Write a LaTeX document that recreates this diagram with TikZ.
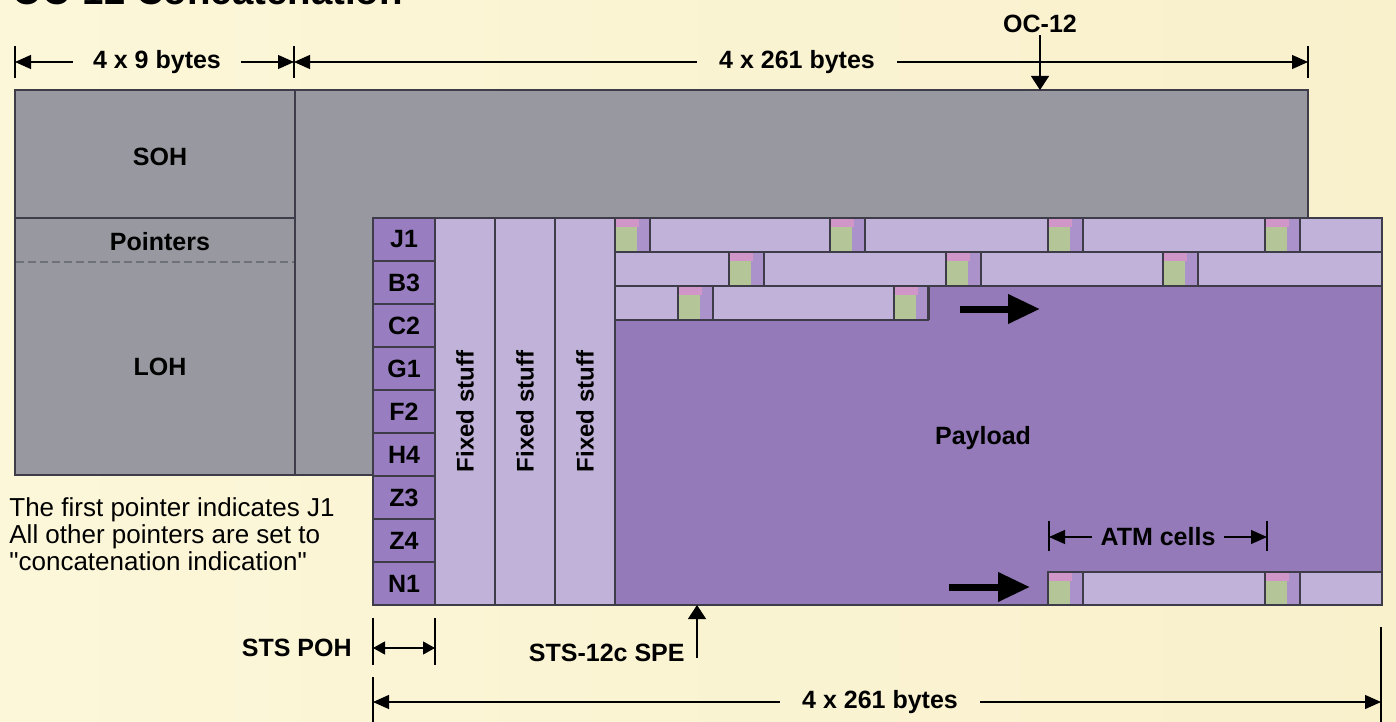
\documentclass[tikz,border=0pt]{standalone}
\usepackage{fontspec}
\setmainfont{Liberation Sans}
\usetikzlibrary{arrows.meta,positioning}
\definecolor{bgleft}   {RGB}{252,247,217}
\definecolor{bgright}  {RGB}{249,240,204}
\definecolor{ohgray}   {RGB}{152,152,160}
\definecolor{spepurple}{RGB}{148,122,184}
\definecolor{pohpurple}{RGB}{152,126,192}
\definecolor{fixlav}   {RGB}{192,178,216}
\definecolor{hdrpurple}{RGB}{172,146,202}
\definecolor{cellpink} {RGB}{208,150,200}
\definecolor{cellgreen}{RGB}{180,198,152}
\definecolor{cellline} {RGB}{62,60,72}
\definecolor{dashgray} {RGB}{108,114,118}
\tikzset{
  lbl/.style={font=\bfseries\fontsize{12.5}{15}\selectfont,inner ysep=1pt,
              inner xsep=10pt},
  note/.style={font=\fontsize{13}{13.5}\selectfont,align=left,inner sep=0pt},
  titletxt/.style={font=\bfseries\fontsize{19.2}{22}\selectfont,inner sep=0pt},
  pohbox/.style={draw=cellline,fill=pohpurple,line width=0.7pt,
                 minimum width=31pt,minimum height=21.5pt,
                 inner sep=0pt,outer sep=0pt,
                 font=\bfseries\fontsize{12.5}{15}\selectfont},
  fixbox/.style={draw=cellline,fill=fixlav,line width=0.7pt,
                 minimum width=30pt,minimum height=193.5pt,
                 inner sep=0pt,outer sep=0pt,
                 font=\bfseries\fontsize{12}{14}\selectfont},
  frame/.style={draw=cellline,line width=0.7pt},
  ptrdash/.style={draw=dashgray,line width=1pt,dash pattern=on 4pt off 2pt},
  dimarr/.style={-{Triangle[length=8pt,width=7pt]},line width=0.6pt},
  dimboth/.style={{Triangle[length=6pt,width=6.5pt]}-{Triangle[length=6pt,width=6.5pt]},
                  line width=0.6pt},
  ptr/.style={-{Triangle[length=7pt,width=9pt]},line width=0.6pt},
  bigarr/.style={-{Triangle[length=16pt,width=14pt]},line width=3.5pt},
  tick/.style={line width=0.6pt},
  atmhdr/.pic={
    \fill[hdrpurple] (0,1) rectangle (35,33);
    \fill[cellpink]  (1,1) rectangle (24,9);
    \fill[cellgreen] (1,9) rectangle (22,33);
    \draw[cellline,line width=0.7pt] (0,0) -- (0,34) (35,0) -- (35,34);
  },
}

\begin{document}
\begin{tikzpicture}[x=0.5pt,y=-0.5pt]
  % paper
  \shade[left color=bgleft,right color=bgright] (0,0) rectangle (1396,722);
  \useasboundingbox (0,0) rectangle (1396,722);
  \node[titletxt,anchor=base west] (title) at (12,5) {OC-12 Concatenation};

  % OC-12 frame: SOH / pointers / LOH
  \draw[frame,fill=ohgray] (15,90) rectangle (1308,475);
  \draw[frame] (15,218) -- (295,218);
  \draw[frame,line width=1pt] (295,90) -- (295,475);
  \draw[ptrdash] (16,262) -- (294,262);
  \node[lbl] (SOH) at (160,157) {SOH};
  \node[lbl] (PTR) at (160,242) {Pointers};
  \node[lbl] (LOH) at (160,367) {LOH};

  % STS-12c SPE
  \draw[frame,fill=spepurple] (373,218) rectangle (1382,605);
  \node[pohbox,anchor=north west] (J1) at (373,218) {J1};
  \foreach \cur/\prev in {B3/J1,C2/B3,G1/C2,F2/G1,H4/F2,Z3/H4,Z4/Z3,N1/Z4}
    \node[pohbox,below=0pt of \prev] (\cur) {\cur};
  \node[fixbox,anchor=north west] (FS1) at (435,218) {\rotatebox{90}{Fixed stuff}};
  \node[fixbox,right=0pt of FS1] (FS2) {\rotatebox{90}{Fixed stuff}};
  \node[fixbox,right=0pt of FS2] (FS3) {\rotatebox{90}{Fixed stuff}};
  \node[lbl] (PAY) at (983,438) {Payload};

  % ATM cell rows
  \fill[fixlav] (615,218) rectangle (1382,252);
  \fill[fixlav] (615,252) rectangle (1382,286);
  \fill[fixlav] (615,286) rectangle (928,320);
  \fill[fixlav] (1048,572) rectangle (1382,605);
  \foreach \x in {615,830,1048,1265} \pic at (\x,218) {atmhdr};
  \foreach \x in {729,946,1163}      \pic at (\x,252) {atmhdr};
  \foreach \x in {678,894}           \pic at (\x,286) {atmhdr};
  \foreach \x in {1048,1265}         \pic at (\x,572) {atmhdr};
  \draw[frame] (615,218) rectangle (1382,252);
  \draw[frame] (615,252) rectangle (1382,286);
  \draw[frame] (615,286) rectangle (928,320);
  \draw[frame] (1048,572) rectangle (1382,605);

  % fill direction
  \coordinate (fwdA) at (960,309);
  \coordinate (fwdB) at (1040,309);
  \coordinate (fwdC) at (949,587);
  \coordinate (fwdD) at (1030,587);
  \draw[bigarr] (fwdA) -- (fwdB);
  \draw[bigarr] (fwdC) -- (fwdD);

  % top widths
  \node[lbl] (W9) at (157,62) {4 x 9 bytes};
  \node[lbl,inner xsep=11pt] (W261) at (797,62) {4 x 261 bytes};
  \coordinate (d0) at (15,62);
  \coordinate (d1) at (294,62);
  \coordinate (d2) at (1308,62);
  \draw[dimarr] (W9) -- (d0);
  \draw[dimarr] (W9) -- (d1);
  \draw[dimarr] (W261) -- (d1);
  \draw[dimarr] (W261) -- (d2);
  \foreach \p in {d0,d1,d2}
    \draw[tick] ([yshift=8pt]\p) -- ([yshift=-8pt]\p);

  % OC-12 pointer
  \node[lbl] (OC) at (1040,24) {OC-12};
  \coordinate (ocTop) at (1040,90);
  \draw[ptr] (OC) -- (ocTop);

  % ATM cells width
  \node[lbl,inner xsep=4pt] (ATM) at (1158,537) {ATM cells};
  \coordinate (a0) at (1049,537);
  \coordinate (a1) at (1267,537);
  \draw[dimarr] (ATM) -- (a0);
  \draw[dimarr] (ATM) -- (a1);
  \foreach \p in {a0,a1}
    \draw[tick] ([yshift=8pt]\p) -- ([yshift=-7pt]\p);

  % pointer note
  \node[note,anchor=west] (NOTE) at (9,534)
    {The first pointer indicates J1\\All other pointers are set to\\
     \textquotedbl concatenation indication\textquotedbl};

  % STS POH width
  \node[lbl,anchor=east,inner xsep=0pt] (POH) at (352,648) {STS POH};
  \coordinate (p0) at (373,648);
  \coordinate (p1) at (435,648);
  \draw[dimboth] (p0) -- (p1);
  \foreach \p in {p0,p1}
    \draw[tick] ([yshift=15pt]\p) -- ([yshift=-8.5pt]\p);

  % STS-12c SPE pointer
  \node[lbl,anchor=east,inner xsep=0pt] (SPE) at (685,653) {STS-12c SPE};
  \coordinate (speFoot) at (697,658);
  \coordinate (speTop) at (697,605);
  \draw[ptr] (speFoot) -- (speTop);

  % bottom width
  \node[lbl,inner xsep=11pt] (W261b) at (880,702) {4 x 261 bytes};
  \coordinate (b0) at (373,702);
  \coordinate (b1) at (1381,702);
  \draw[dimarr] (W261b) -- (b0);
  \draw[dimarr] (W261b) -- (b1);
  \draw[tick] ([yshift=12.5pt]b0) -- ([yshift=-12pt]b0);
  \draw[tick] ([yshift=37.5pt]b1) -- ([yshift=-12pt]b1);
\end{tikzpicture}
\end{document}
